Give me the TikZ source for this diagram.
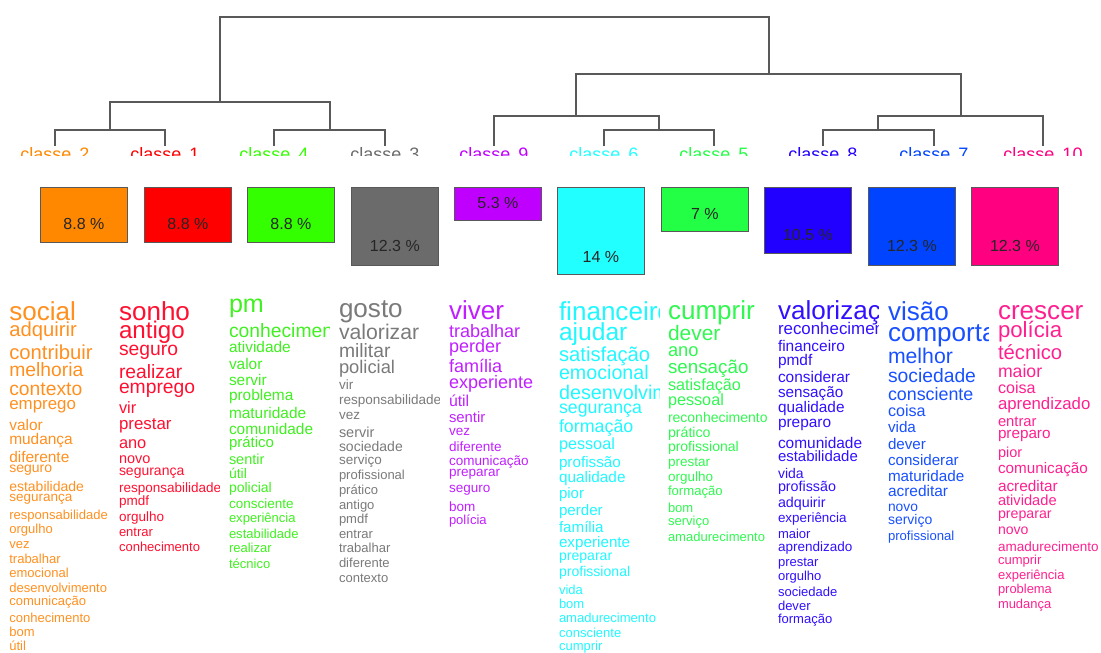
\documentclass[tikz,border=0pt]{standalone}
\usepackage{fontspec}
\setmainfont{Liberation Sans}
\definecolor{cA}{HTML}{FF8800}% classe 2
\definecolor{cB}{HTML}{FF0000}% classe 1
\definecolor{cC}{HTML}{33FF00}% classe 4
\definecolor{cD}{HTML}{6B6B6B}% classe 3
\definecolor{cE}{HTML}{C000FF}% classe 9
\definecolor{cF}{HTML}{22FFFF}% classe 6
\definecolor{cG}{HTML}{22FF44}% classe 5
\definecolor{cH}{HTML}{2200FF}% classe 8
\definecolor{cI}{HTML}{0044FF}% classe 7
\definecolor{cJ}{HTML}{FF0080}% classe 10
\definecolor{tA}{HTML}{FF9020}
\definecolor{tB}{HTML}{FF1030}
\definecolor{tC}{HTML}{40F020}
\definecolor{tD}{HTML}{7A7A7A}
\definecolor{tE}{HTML}{C020FF}
\definecolor{tF}{HTML}{20F8FF}
\definecolor{tG}{HTML}{30F850}
\definecolor{tH}{HTML}{3010FF}
\definecolor{tI}{HTML}{1850FF}
\definecolor{tJ}{HTML}{FF2090}
\newcommand\wordcolumn[4]{%
  \begin{scope}
    \clip (#2,286) rectangle ({#2+100},653);
    \foreach \yy/\fs/\ww [count=\idx] in {#4}{%
      \pgfmathsetmacro\fsz{0.965*\fs}%
      \node[word, text=#3, font=\fontsize{\fsz}{\fsz}\selectfont] (w#1-\idx) at (#2,{\yy+0.34*\fs}) {\ww};
    }
  \end{scope}}
\begin{document}
\begin{tikzpicture}[x=1pt,y=-1pt,
  dend/.style={draw=black!65, line width=1.5pt},
  word/.style={anchor=base west, inner sep=0pt, outer sep=0pt},
  pbox/.style={draw=black!65, line width=0.8pt, anchor=north west, minimum width=87pt, inner sep=0pt},
  pct/.style={text=black!85, font=\fontsize{16}{16}\selectfont, inner sep=0pt},
  clab/.style={anchor=base, inner sep=0pt, font=\fontsize{18}{18}\selectfont}]
\useasboundingbox (0,0) rectangle (1101,653);

% ---------- dendrogram ----------
\coordinate (L2) at (55,146);
\coordinate (L1) at (165,146);
\coordinate (L4) at (274,146);
\coordinate (L3) at (385,146);
\coordinate (L9) at (494,146);
\coordinate (L6) at (604,146);
\coordinate (L5) at (714,146);
\coordinate (L8) at (823,146);
\coordinate (L7) at (934,146);
\coordinate (L10) at (1043,146);
\coordinate (J21) at (110,130);
\coordinate (J43) at (330,130);
\coordinate (JL) at (220,102);
\coordinate (J65) at (659,130);
\coordinate (J965) at (576,116);
\coordinate (J87) at (878,130);
\coordinate (J8710) at (961,116);
\coordinate (JR) at (769,74);
\coordinate (JT) at (494,17);

\draw[dend] (L2) |- (J21) -| (L1);
\draw[dend] (L4) |- (J43) -| (L3);
\draw[dend] (J21) |- (JL) -| (J43);
\draw[dend] (L6) |- (J65) -| (L5);
\draw[dend] (L9) |- (J965) -| (J65);
\draw[dend] (L8) |- (J87) -| (L7);
\draw[dend] (J87) |- (J8710) -| (L10);
\draw[dend] (J965) |- (JR) -| (J8710);
\draw[dend] (JL) |- (JT) -| (JR);

% ---------- class labels (clipped) ----------
\begin{scope}
\clip (0,140) rectangle (1101,155.5);
\node[clab, text=cA] (lab2) at (55,160.5) {classe\hspace{8pt}2};
\node[clab, text=cB] (lab1) at (165,160.5) {classe\hspace{8pt}1};
\node[clab, text=cC] (lab4) at (274,160.5) {classe\hspace{8pt}4};
\node[clab, text=cD] (lab3) at (385,160.5) {classe\hspace{8pt}3};
\node[clab, text=cE] (lab9) at (494,160.5) {classe\hspace{8pt}9};
\node[clab, text=cF] (lab6) at (604,160.5) {classe\hspace{8pt}6};
\node[clab, text=cG] (lab5) at (714,160.5) {classe\hspace{8pt}5};
\node[clab, text=cH] (lab8) at (823,160.5) {classe\hspace{8pt}8};
\node[clab, text=cI] (lab7) at (934,160.5) {classe\hspace{8pt}7};
\node[clab, text=cJ] (lab10) at (1043,160.5) {classe\hspace{8pt}10};
\end{scope}

% ---------- percentage boxes ----------
\node[pbox, fill=cA, minimum height=55pt] (b2) at (40,187) {};
\node[pbox, fill=cB, minimum height=55pt] (b1) at (144,187) {};
\node[pbox, fill=cC, minimum height=55pt] (b4) at (247,187) {};
\node[pbox, fill=cD, minimum height=78pt] (b3) at (351,187) {};
\node[pbox, fill=cE, minimum height=33pt] (b9) at (454,187) {};
\node[pbox, fill=cF, minimum height=87pt] (b6) at (557,187) {};
\node[pbox, fill=cG, minimum height=44pt] (b5) at (661,187) {};
\node[pbox, fill=cH, minimum height=66pt] (b8) at (764,187) {};
\node[pbox, fill=cI, minimum height=78pt] (b7) at (868,187) {};
\node[pbox, fill=cJ, minimum height=78pt] (b10) at (971,187) {};
\node[pct] (p2) at ([yshift=19pt]b2.south) {8.8 \%};
\node[pct] (p1) at ([yshift=19pt]b1.south) {8.8 \%};
\node[pct] (p4) at ([yshift=19pt]b4.south) {8.8 \%};
\node[pct] (p3) at ([yshift=20pt]b3.south) {12.3 \%};
\node[pct] (p9) at ([yshift=18pt]b9.south) {5.3 \%};
\node[pct] (p6) at ([yshift=18pt]b6.south) {14 \%};
\node[pct] (p5) at ([yshift=18pt]b5.south) {7 \%};
\node[pct] (p8) at ([yshift=19pt]b8.south) {10.5 \%};
\node[pct] (p7) at ([yshift=20pt]b7.south) {12.3 \%};
\node[pct] (p10) at ([yshift=20pt]b10.south) {12.3 \%};

% ---------- word columns ----------
\wordcolumn{A}{9.3}{tA}{311.7/27/social, 329/21/adquirir, 352.7/21/contribuir, 370/20/melhoria, 389/20/contexto, 404/17.5/emprego, 425/16/valor, 439/16/mudança, 457/16/diferente, 468/14.5/seguro, 487/14.5/estabilidade, 497/14/segurança, 515/13.5/responsabilidade, 529/13.5/orgulho, 544/13.5/vez, 559/13.5/trabalhar, 573/13.5/emocional, 588/13.5/desenvolvimento, 601/13.5/comunicação, 618/13.5/conhecimento, 632/13.5/bom, 646/13.5/útil}

\wordcolumn{B}{119}{tB}{311.7/27/sonho, 330/25/antigo, 349/20/seguro, 371.7/20/realizar, 387/20/emprego, 408/17/vir, 424/17.5/prestar, 442.7/17/ano, 458/15/novo, 471/14.5/segurança, 488/14/responsabilidade, 501/14/pmdf, 517/14/orgulho, 532/13.5/entrar, 546.7/13.5/conhecimento}

\wordcolumn{C}{229}{tC}{304/26/pm, 330.7/20/conhecimento, 347/16/atividade, 364/16/valor, 380/16/servir, 395/16/problema, 412.7/16/maturidade, 429/16/comunidade, 442/15.5/prático, 459/15/sentir, 474/14.5/útil, 488/14.5/policial, 504/14/consciente, 518/13.5/experiência, 534/13.5/estabilidade, 548/13.5/realizar, 564/13.5/técnico}

\wordcolumn{D}{339}{tD}{308/27/gosto, 332/22/valorizar, 351/20/militar, 367/19/policial, 385/14/vir, 400/14/responsabilidade, 415/14/vez, 432.7/15/servir, 447/14.5/sociedade, 460/14/serviço, 475/13.5/profissional, 490/13.5/prático, 505/13.5/antigo, 519/13.5/pmdf, 534/13.5/entrar, 548/13.5/trabalhar, 563/13.5/diferente, 578/13.5/contexto}

\wordcolumn{E}{449}{tE}{310.7/27/viver, 330.7/18.7/trabalhar, 346/18.7/perder, 366/18.7/família, 382/18.7/experiente, 400.7/16.4/útil, 417/15.4/sentir, 431/14/vez, 446.7/14/diferente, 461/14/comunicação, 472/14/preparar, 488/14/seguro, 506.7/14/bom, 520/13.5/polícia}

\wordcolumn{F}{559}{tF}{311.7/27/financeiro, 331.7/25.5/ajudar, 354/21/satisfação, 372.7/20.4/emocional, 393/20.5/desenvolvimento, 407/18.4/segurança, 426/18.5/formação, 444/16.8/pessoal, 462/15.8/profissão, 477/15.9/qualidade, 493/15.6/pior, 510/15.7/perder, 526.7/15.7/família, 541.7/15.8/experiente, 555.7/14.6/preparar, 572/14.6/profissional, 590/13.5/vida, 604/13.5/bom, 618/13.5/amadurecimento, 633/13.5/consciente, 646/13.5/cumprir}

\wordcolumn{G}{668}{tG}{310.7/27/cumprir, 333/21.7/dever, 350/19/ano, 367/19.5/sensação, 385/16.8/satisfação, 400/16.8/pessoal, 417.7/14.5/reconhecimento, 432.7/14.7/prático, 446.7/14.5/profissional, 462/14/prestar, 476.5/14/orgulho, 491/13.6/formação, 508/13.5/bom, 520.5/13.5/serviço, 537.3/13.5/amadurecimento}

\wordcolumn{H}{778}{tH}{310.7/27/valorização, 329/17.5/reconhecimento, 345.7/16/financeiro, 360/16/pmdf, 377.3/16/considerar, 392/15.8/sensação, 407.5/15.9/qualidade, 422.5/16/preparo, 442.7/16/comunidade, 456.7/15.5/estabilidade, 473.3/14.5/vida, 486/14.8/profissão, 502/14.8/adquirir, 518/13.9/experiência, 534.3/13.5/maior, 546.5/14/aprendizado, 562/13.5/prestar, 575.5/13.5/orgulho, 591.7/13.5/sociedade, 605.7/13.5/dever, 619/13.5/formação}

\wordcolumn{I}{888}{tI}{311.7/27/visão, 332.5/27/comportamento, 356/22/melhor, 375.5/20/sociedade, 394/18.5/consciente, 410.7/16.7/coisa, 426.7/15.8/vida, 444/15.7/dever, 460/15.7/considerar, 476/15.8/maturidade, 491/16/acreditar, 506.7/14.3/novo, 520/14.5/serviço, 536/13.6/profissional}

\wordcolumn{J}{998}{tJ}{310.7/27/crescer, 330/23/polícia, 352.7/21/técnico, 371/18.3/maior, 387.7/16.7/coisa, 403.5/17.4/aprendizado, 421/15.3/entrar, 433.5/15.8/preparo, 452/15/pior, 468.3/15.8/comunicação, 486/15.9/acreditar, 500.7/15.2/atividade, 513.5/14.7/preparar, 530/14.6/novo, 546.7/14/amadurecimento, 559.5/13.5/cumprir, 574.5/13.5/experiência, 589/13.4/problema, 603.5/13.4/mudança}
\end{tikzpicture}
\end{document}
